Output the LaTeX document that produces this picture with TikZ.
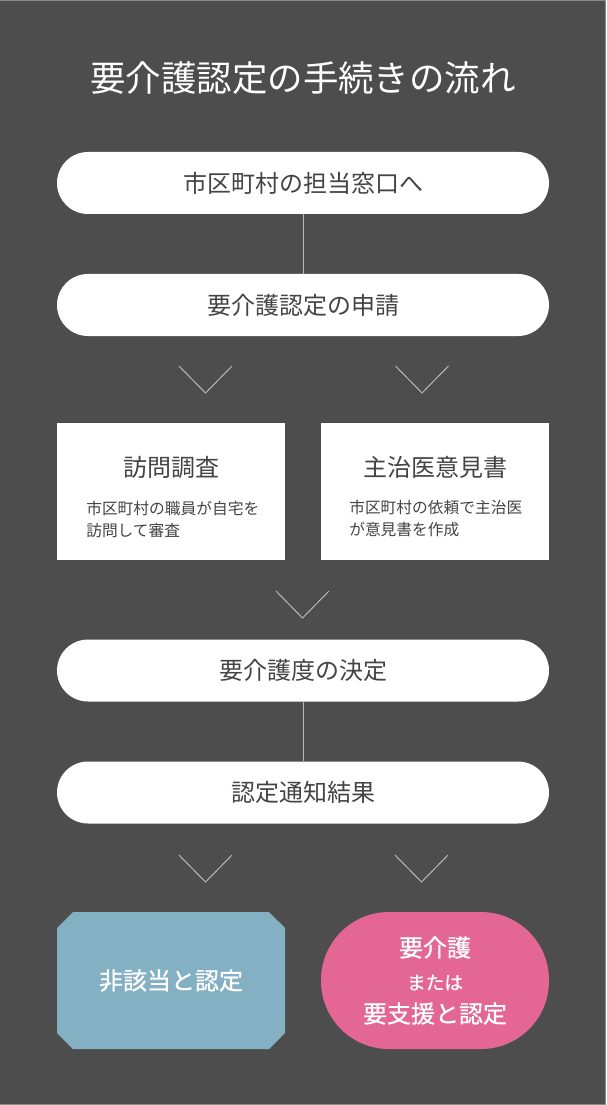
\documentclass[tikz,border=0pt]{standalone}
\usepackage{fontspec}
\setmainfont{Noto Sans CJK JP}
\newfontfamily\jpmedium[FakeBold=0.8]{Noto Sans CJK JP}
\usetikzlibrary{shapes.misc}
\usetikzlibrary{positioning}

\definecolor{bgdark}{HTML}{4D4D4D}
\definecolor{textdark}{HTML}{444444}
\definecolor{linegray}{HTML}{B8B8B8}
\definecolor{framegray}{HTML}{8A8A8A}
\definecolor{bluebox}{HTML}{84B0C3}
\definecolor{pinkbox}{HTML}{E36792}

\begin{document}
\begin{tikzpicture}[x=0.75pt, y=-0.75pt,
    pill/.style={fill=white, rounded corners=23.25pt, minimum width=369pt,
      minimum height=46.5pt, inner sep=0pt, text=textdark,
      font=\fontsize{18}{22}\selectfont},
    card/.style={fill=white, minimum width=171pt, minimum height=102.75pt, inner sep=0pt},
    cardtitle/.style={text=textdark, font=\fontsize{18}{22}\selectfont},
    cardtext/.style={text=textdark, anchor=west, align=left, inner sep=0pt,
      font=\fontsize{11.8}{16.5}\selectfont},
    result/.style={minimum width=171pt, minimum height=102.75pt, inner sep=0pt,
      text=white, align=center, font=\jpmedium\fontsize{18}{24.75}\selectfont},
    link/.style={draw=linegray, line width=0.75pt},
    chevron/.pic={\draw[linegray, line width=0.75pt] (-26.5, -13.5) -- (0, 13.5) -- (26.5, -13.5);}]

    \useasboundingbox (0, 0) rectangle (606, 1105);
    \fill[bgdark] (0, 0) rectangle (606, 1105);
    \draw[framegray, line width=0.75pt] (0, 0.5) -- (605.5, 0.5) -- (605.5, 1104.5) -- (0, 1104.5);

    \node (title) at (303, 78) {\color{white}\fontsize{26.6}{30}\selectfont 要介護認定の手続きの流れ};

    \node[pill] (window) at (303, 183) {市区町村の担当窓口へ};
    \node[pill] (apply) at (303, 305) {要介護認定の申請};
    \node[pill] (level) at (303, 670.5) {要介護度の決定};
    \node[pill] (notice) at (303, 792.5) {認定通知結果};

    \draw[link] (window) -- (apply);
    \draw[link] (level) -- (notice);

    \pic at (205.5, 379.5) {chevron};
    \pic at (422, 379.5) {chevron};

    \node[card] (visit) at (171, 491.5) {};
    \node[card] (doctor) at (435, 491.5) {};
    \node[cardtitle] (visittitle) at (171, 467) {訪問調査};
    \node[cardtitle] (doctortitle) at (435, 467) {主治医意見書};
    \node[cardtext] (visittext) at (86, 519) {市区町村の職員が自宅を\\訪問して審査};
    \node[cardtext] (doctortext) at (349, 519) {市区町村の依頼で主治医\\が意見書を作成};

    \pic at (302.5, 604.5) {chevron};

    \pic at (205.5, 868.5) {chevron};
    \pic at (421.5, 868.5) {chevron};

    \node[result, chamfered rectangle, chamfered rectangle xsep=11.25pt,
      fill=bluebox] (nonapp) at (171, 980.5) {非該当と認定};
    \node[result, rounded corners=51pt, fill=pinkbox] (care) at (435, 980.5)
      {要介護\\{\fontsize{14}{16}\selectfont または}\\要支援と認定};

  \end{tikzpicture}
\end{document}
